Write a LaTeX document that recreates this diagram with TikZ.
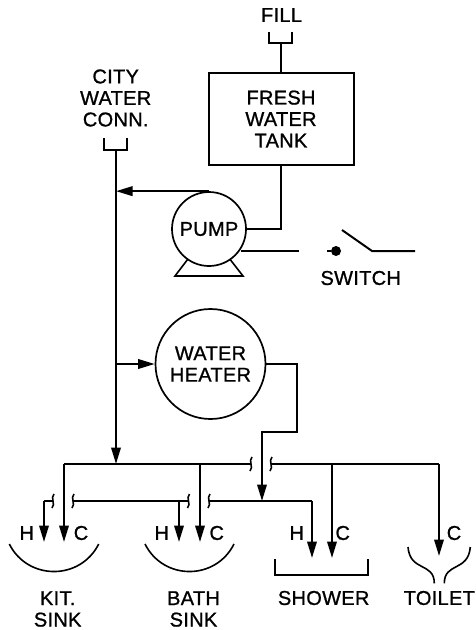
\documentclass[tikz,border=0pt]{standalone}
\usepackage{fontspec}
\setmainfont[FakeBold=1,LetterSpace=1.5]{Liberation Sans}
\usetikzlibrary{arrows.meta,calc}
\tikzset{
  pipe/.style={draw=black,line width=2pt,line join=miter},
  flow/.style={pipe,-{Triangle[length=16.5pt,width=9.5pt]}},
  thin pipe/.style={draw=black,line width=1.6pt},
  lbl/.style={font=\fontsize{20}{21.5}\selectfont,align=center,inner sep=0pt,text=black},
  ring/.style={circle,draw=black,line width=1.7pt,inner sep=0pt,align=center,font=\fontsize{20}{21.5}\selectfont},
  tankbox/.style={rectangle,draw=black,line width=2pt,inner sep=0pt,align=center,font=\fontsize{20}{21.5}\selectfont},
}
\newcommand{\squig}[1]{\draw[thin pipe] ($(#1)+(1,-7)$) .. controls ($(#1)+(-3,-3)$) and ($(#1)+(3,3)$) .. ($(#1)+(-1,7)$);}
\begin{document}
\begin{tikzpicture}[x=1pt,y=-1pt]
\useasboundingbox (0,0) rectangle (476,630);
% main components
\node[lbl] (fill) at (281.5,15) {FILL};
\node[tankbox,minimum width=145pt,minimum height=92pt] (tank) at (281,119) {FRESH\\WATER\\TANK};
\node[lbl] (city) at (115.7,98) {CITY\\WATER\\CONN.};
\node[ring,minimum size=74pt] (pump) at (209,229) {PUMP};
\node[ring,minimum size=110pt] (heater) at (210.5,364) {WATER\\HEATER};
\node[lbl] (switch) at (360.7,278) {SWITCH};
\node[circle,fill=black,inner sep=0pt,minimum size=10pt] (dot) at (336,251) {};
% inlet cups
\coordinate (fillcup) at (281,43);
\coordinate (citycup) at (116,150);
\draw[pipe] (269,32) |- (292,43) -- (292,32);
\draw[pipe] (104,138) |- (127,150) -- (127,138);
\draw[pipe] (fillcup) -- (tank.north);
% buses
\coordinate (busjoin) at (116,464);
\coordinate (pumpjoin) at (116,193);
\coordinate (heatjoin) at (116,364);
\coordinate (cA) at (64,542);
\coordinate (cB) at (200,542);
\coordinate (cC) at (332,558);
\coordinate (cD) at (439,556);
\coordinate (hA) at (44,542);
\coordinate (hB) at (179,542);
\coordinate (hC) at (312,558);
\coordinate (hotjoin) at (262,501);
\coordinate (sq1) at (251,464);
\coordinate (sq2) at (271,464);
\coordinate (sq3) at (53,501);
\coordinate (sq4) at (73,501);
\coordinate (sq5) at (188.5,501);
\coordinate (sq6) at (209,501);
\draw[flow] (citycup) -- (busjoin);
\draw[flow] (pump.north) -- (pumpjoin |- pump.north);
\draw[flow] (heatjoin) -- (heater.west);
\draw[pipe] (tank.south) |- (pump.east);
\draw[flow] (heater.east) -| (297,432) -| (hotjoin);
% cold bus
\draw[pipe] (sq1) -- (cA |- sq1);
\draw[flow] (cA |- sq1) -- (cA);
\draw[flow] (cB |- sq1) -- (cB);
\draw[pipe] (sq2) -- (cD |- sq2);
\draw[flow] (cC |- sq2) -- (cC);
\draw[flow] (cD |- sq2) -- (cD);
% hot bus
\draw[pipe] (sq3) -- (hA |- sq3);
\draw[flow] (hA |- sq3) -- (hA);
\draw[pipe] (sq4) -- (sq5);
\draw[flow] (hB |- sq4) -- (hB);
\draw[pipe] (sq6) -- (hC |- sq6);
\draw[flow] (hC |- sq6) -- (hC);
% break marks
\squig{sq1}\squig{sq2}\squig{sq3}\squig{sq4}\squig{sq5}\squig{sq6}
% switch
\coordinate (swA) at (241,251);
\coordinate (swB) at (299,251);
\coordinate (swC) at (342,230);
\coordinate (swD) at (372,251);
\coordinate (swE) at (415,251);
\draw[pipe] (swA) -- (swB);
\draw[pipe] (327,251) -- (dot.west);
\draw[pipe] (swC) -- (swD) -- (swE);
% pump base
\draw[thin pipe,line join=miter] (187.7,259.3) -- (175,276) -- (243,276) -- (230,259.3);
% sinks
\draw[thin pipe] (9.3,544) .. controls (27.7,580.7) and (80.3,580.7) .. (98.7,544);
\draw[thin pipe] (145,544) .. controls (163.4,580.7) and (215.6,580.7) .. (234,544);
% shower tray
\draw[pipe] (275,559) |- (368,575) -- (368,559);
% toilet
\draw[thin pipe] (408,547) .. controls (410,572) and (434.3,562) .. (434.3,583.3);
\draw[thin pipe] (470.3,547) .. controls (468.3,572) and (444.3,562) .. (444.3,583.3);
% labels
\node[lbl] (kh) at (26.7,533) {H};
\node[lbl] (kc) at (81,533) {C};
\node[lbl] (bh) at (161.7,533) {H};
\node[lbl] (bc) at (216.7,533) {C};
\node[lbl] (sh) at (296.7,533) {H};
\node[lbl] (sc) at (342.7,533) {C};
\node[lbl] (tc) at (454,533) {C};
\node[lbl] (kit) at (57.7,609) {KIT.\\SINK};
\node[lbl] (bath) at (193.5,609) {BATH\\SINK};
\node[lbl] (shower) at (323.7,598) {SHOWER};
\node[lbl] (toilet) at (439.3,598) {TOILET};
\end{tikzpicture}
\end{document}
